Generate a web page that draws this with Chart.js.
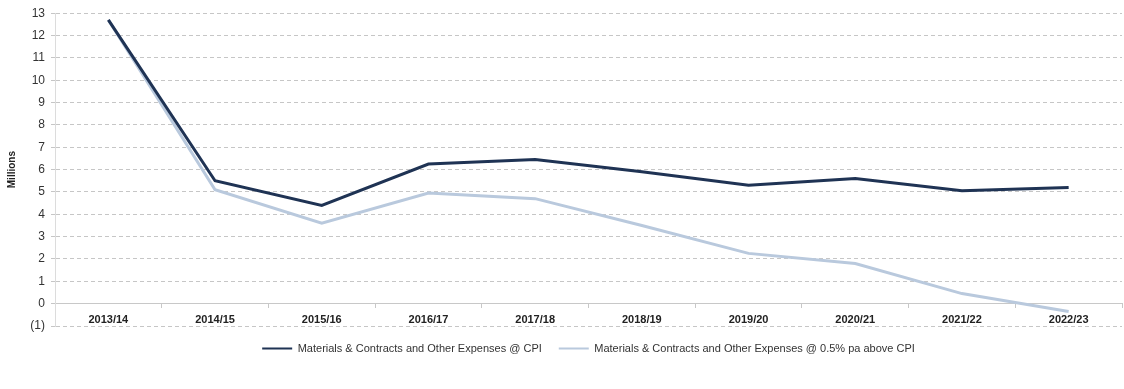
<!DOCTYPE html>
<html>
<head>
<meta charset="utf-8">
<script src="https://cdn.jsdelivr.net/npm/chart.js@4.4.1/dist/chart.umd.min.js"></script>
<style>
  html, body { margin: 0; padding: 0; background: #ffffff; }
  #wrap { width: 1124px; height: 389px; position: relative; }
</style>
</head>
<body>
<div id="wrap"><canvas id="chart" width="1124" height="389"></canvas></div>
<script>
// Financial years shown along the bottom
const categories = ['2013/14', '2014/15', '2015/16', '2016/17', '2017/18',
                    '2018/19', '2019/20', '2020/21', '2021/22', '2022/23'];

// Materials & contracts projections, $ millions
const cpiSeries      = [12.7, 5.5, 4.4, 6.25, 6.45, 5.9, 5.3, 5.6, 5.05, 5.2];
const aboveCpiSeries = [12.7, 5.1, 3.6, 4.95, 4.7, 3.5, 2.25, 1.8, 0.45, -0.35];

const seriesNames = [
  'Materials & Contracts and Other Expenses @ CPI',
  'Materials & Contracts and Other Expenses @ 0.5% pa above CPI'
];

// Value axis range and tick step
const yMin = -1;
const yMax = 13;
const yStep = 1;

const narrow = "'Liberation Sans Narrow', 'Arial Narrow', 'Liberation Sans', Arial, sans-serif";

// Centre the legend under the plot area rather than the whole canvas
const legendUnderPlot = {
  id: 'legendUnderPlot',
  afterLayout(chart) {
    const lg = chart.legend;
    if (!lg) return;
    const shift = (chart.chartArea.left + chart.chartArea.right) / 2 - (lg.left + lg.right) / 2;
    lg.left += shift;
    lg.right += shift;
  }
};

new Chart(document.getElementById('chart'), {
  type: 'line',
  data: {
    labels: categories,
    datasets: [
      {
        label: seriesNames[0],
        data: cpiSeries,
        borderColor: '#1f3354',
        backgroundColor: '#1f3354',
        borderWidth: 3,
        pointRadius: 0,
        tension: 0
      },
      {
        label: seriesNames[1],
        data: aboveCpiSeries,
        borderColor: '#b9c9dd',
        backgroundColor: '#b9c9dd',
        borderWidth: 3,
        pointRadius: 0,
        tension: 0
      }
    ]
  },
  plugins: [legendUnderPlot],
  options: {
    responsive: false,
    animation: false,
    layout: { padding: { top: 8, right: 2, left: 0, bottom: 25 } },
    plugins: {
      tooltip: { enabled: false },
      legend: {
        position: 'bottom',
        labels: {
          boxWidth: 30,
          boxHeight: 2,
          padding: 17,
          color: '#333',
          font: { family: narrow, size: 11 },
          // thin line swatches, no outline
          generateLabels: chart => Chart.defaults.plugins.legend.labels
            .generateLabels(chart)
            .map(item => Object.assign(item, { lineWidth: 0 }))
        }
      }
    },
    scales: {
      x: {
        type: 'category',
        offset: true,
        position: { y: 0 },
        grid: {
          offset: true,
          drawOnChartArea: false,
          drawTicks: true,
          tickLength: 4,
          color: '#c8c8c8'
        },
        border: { display: true, color: '#c8c8c8', width: 1 },
        ticks: {
          color: '#222',
          padding: 6,
          maxRotation: 0,
          autoSkip: false,
          font: { family: narrow, size: 11, weight: 'bold' }
        }
      },
      y: {
        min: yMin,
        max: yMax,
        grid: {
          color: '#c6c6c6',
          lineWidth: 1,
          drawTicks: true,
          tickLength: 4
        },
        border: { display: true, color: '#dcdcdc', dash: [4, 3] },
        title: {
          display: true,
          text: 'Millions',
          color: '#222',
          padding: { top: 6, bottom: 8 },
          font: { family: "'Liberation Sans', Arial, sans-serif", size: 10, weight: 'bold' }
        },
        ticks: {
          stepSize: yStep,
          color: '#333',
          padding: 6,
          font: { family: narrow, size: 12 },
          callback: v => (v < 0 ? '(' + Math.abs(v) + ')' : String(v))
        },
        afterFit: scale => { scale.width = 55; }
      }
    }
  }
});
</script>
</body>
</html>
